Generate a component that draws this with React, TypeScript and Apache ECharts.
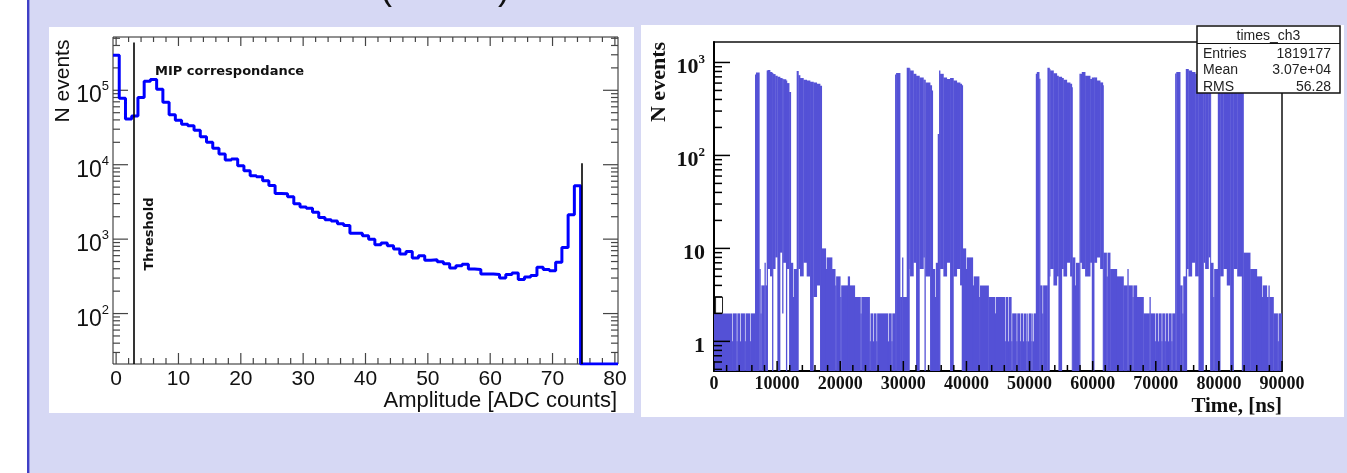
import React, { useEffect, useRef } from 'react';
import * as echarts from 'echarts';

// ---------------- Left chart: amplitude histogram (bins of 1 ADC count, 0..80) ----------------
const ampBinValues = [
  295000, 78000, 41000, 45000, 80000, 132000, 140000, 103000, 69000, 47000,
  39600, 35000, 33300, 29000, 23700, 20000, 16600, 13900, 11600, 11900,
  9700, 8300, 7100, 6900, 6100, 5250, 4100, 4060, 3700, 3000,
  2700, 2600, 2300, 1950, 1820, 1750, 1610, 1520, 1200, 1200,
  1110, 1000, 840, 890, 815, 736, 630, 684, 558, 600,
  519, 530, 498, 468, 410, 440, 458, 398, 390, 341,
  341, 334, 301, 334, 351, 286, 310, 324, 418, 390,
  377, 489, 774, 2120, 5200, 0, 0, 0, 0, 0, 0,
];
const ampTickLabels = [0, 10, 20, 30, 40, 50, 60, 70, 80];
const ampMinorTicks = [2, 4, 6, 8, 12, 14, 16, 18, 22, 24, 26, 28, 32, 34, 36, 38, 42, 44, 46, 48, 52, 54, 56, 58, 62, 64, 66, 68, 72, 74, 76, 78];
const ampDecades = [100, 1000, 10000, 100000];
const thresholdLines = [
  { x: 2.8, top: 440000 },
  { x: 74.7, top: 10500 },
];
const AMP_X_MIN = -0.5, AMP_X_MAX = 80.5, AMP_Y_MIN = 21, AMP_Y_MAX = 520000;

// ---------------- Right chart: time histogram, segments [tStart, tEnd, top, bottom] ----------------
const baselineSegs = [
  [0, 2800, 2, 0], [2800, 2950, 1, 0], [2950, 3550, 2, 0], [3550, 3700, 1, 0], [3700, 4100, 2, 0],
  [4100, 4250, 1, 0], [4250, 4850, 2, 0], [4850, 5000, 1, 0], [5000, 5650, 2, 0], [5650, 5800, 1, 0],
  [5800, 6500, 2, 0],
];
const outlinedSegs = [
  [250, 1350, 3, 2],
];
const group1Segs = [
  [6500, 6650, 740, 0], [6650, 7180, 780, 0], [7180, 7350, 6, 0], [7350, 7500, 2, 0], [7500, 8000, 4, 0],
  [8000, 8150, 7, 0], [8150, 8350, 4, 0], [8350, 8500, 820, 0], [8500, 8875, 830, 6], [8875, 9200, 790, 5],
  [9200, 9350, 770, 0], [9350, 9700, 750, 6], [9700, 10040, 720, 8], [10040, 10460, 700, 0], [10460, 10800, 680, 9],
  [10800, 10950, 670, 2], [10950, 11400, 660, 7], [11400, 11550, 640, 0], [11550, 11900, 600, 6], [11900, 12160, 480, 0],
  [12160, 12500, 7, 0], [12500, 12650, 3, 0], [12650, 13100, 6, 0], [13100, 13370, 810, 0], [13370, 13630, 730, 6],
  [13630, 14158, 680, 5], [14158, 14687, 650, 7], [14687, 15215, 640, 5], [15215, 15743, 620, 0], [15743, 16272, 610, 3],
  [16272, 16800, 590, 4], [16800, 17064, 560, 0],
];
const tail1Segs = [
  [17064, 17700, 10, 0], [17700, 17850, 6, 0], [17850, 18700, 8, 0], [18700, 19200, 6, 0], [19200, 19350, 4, 0],
  [19350, 20000, 5, 0], [20000, 20150, 3, 0], [20150, 21200, 4, 0], [21200, 21500, 5, 0], [21500, 22300, 4, 0],
  [22300, 23200, 3, 0], [23200, 23350, 2, 0], [23350, 24650, 3, 0], [24650, 24800, 1, 0], [24800, 25180, 2, 0],
  [25180, 25330, 1, 0], [25330, 25700, 2, 0], [25700, 25850, 1, 0], [25850, 27550, 2, 0], [27550, 27700, 1, 0],
  [27700, 28100, 2, 0], [28100, 28250, 1, 0], [28250, 28690, 2, 0],
];
const group2Segs = [
  [28690, 28850, 740, 0], [28850, 29480, 770, 0], [29480, 29800, 3, 0], [29800, 29950, 8, 0], [29950, 30535, 3, 0],
  [30535, 30960, 875, 0], [30960, 31064, 860, 6], [31064, 31592, 820, 5], [31592, 32014, 755, 7], [32014, 32543, 720, 0],
  [32543, 33177, 690, 6], [33177, 33350, 650, 8], [33350, 33500, 650, 0], [33500, 34234, 610, 5], [34234, 34498, 570, 0],
  [34498, 34656, 500, 0], [34656, 35000, 6, 0], [35000, 35150, 3, 0], [35150, 35449, 7, 0], [35449, 35660, 170, 0],
  [35660, 35818, 820, 0], [35818, 36347, 755, 6], [36347, 36875, 690, 5], [36875, 37403, 665, 7], [37403, 37931, 680, 0],
  [37931, 38460, 640, 5], [38460, 38988, 610, 6], [38988, 39252, 590, 4], [39252, 39411, 570, 0],
];
const tail2Segs = [
  [39411, 39900, 10, 0], [39900, 40050, 6, 0], [40050, 41000, 8, 0], [41000, 41150, 4, 0], [41150, 42000, 5, 0],
  [42000, 42150, 3, 0], [42150, 43500, 4, 0], [43500, 44500, 3, 0], [44500, 44650, 2, 0], [44650, 46050, 3, 0],
  [46050, 46200, 1, 0], [46200, 46580, 3, 0], [46580, 46730, 1, 0], [46730, 47100, 3, 0], [47100, 47250, 1, 0],
  [47250, 47900, 2, 0], [47900, 48050, 1, 0], [48050, 48430, 2, 0], [48430, 48580, 1, 0], [48580, 48950, 2, 0],
  [48950, 49100, 1, 0], [49100, 49480, 2, 0], [49480, 49630, 1, 0], [49630, 49750, 2, 0], [49750, 49900, 1, 0],
  [49900, 50280, 2, 0], [50280, 50430, 1, 0], [50430, 50540, 2, 0], [50540, 50690, 1, 0], [50690, 50990, 2, 0],
];
const group3Segs = [
  [50990, 51150, 755, 0], [51150, 51520, 790, 0], [51520, 51670, 670, 0], [51670, 52000, 4, 0], [52000, 52150, 2, 0],
  [52150, 52833, 4, 0], [52833, 53150, 875, 0], [53150, 53255, 850, 5], [53255, 53784, 820, 6], [53784, 54312, 765, 4],
  [54312, 54576, 720, 5], [54576, 55104, 700, 0], [55104, 55369, 680, 6], [55369, 55897, 650, 5], [55897, 56425, 610, 7],
  [56425, 56690, 590, 5], [56690, 56795, 540, 0], [56795, 57200, 8, 0], [57200, 57350, 4, 0], [57350, 57904, 7, 0],
  [57904, 58010, 755, 0], [58010, 58274, 755, 7], [58274, 58802, 790, 6], [58802, 59595, 720, 5], [59595, 59860, 665, 7],
  [59860, 60230, 690, 0], [60230, 60651, 690, 7], [60651, 61180, 640, 8], [61180, 61603, 610, 6], [61603, 61708, 570, 0],
];
const tail3Segs = [
  [61708, 62200, 9, 0], [62200, 62350, 5, 0], [62350, 62765, 9, 0], [62765, 63822, 6, 0], [63822, 64879, 5, 0],
  [64879, 65500, 4, 0], [65500, 65650, 6, 0], [65650, 66300, 4, 0], [66300, 66450, 3, 0], [66450, 66992, 4, 0],
  [66992, 68049, 3, 0], [68049, 69000, 2, 0], [69000, 69150, 3, 0], [69150, 69820, 2, 0], [69820, 69970, 1, 0],
  [69970, 70350, 2, 0], [70350, 70500, 1, 0], [70500, 70880, 2, 0], [70880, 71030, 1, 0], [71030, 71400, 2, 0],
  [71400, 71550, 1, 0], [71550, 71930, 2, 0], [71930, 72080, 1, 0], [72080, 72460, 2, 0], [72460, 72610, 1, 0],
  [72610, 73067, 2, 0],
];
const group4Segs = [
  [73067, 73250, 760, 0], [73250, 73859, 790, 0], [73859, 74200, 4, 0], [74200, 74350, 2, 0], [74350, 74757, 5, 0],
  [74757, 74915, 850, 0], [74915, 75180, 850, 6], [75180, 75708, 820, 5], [75708, 76236, 790, 7], [76236, 76764, 755, 5],
  [76764, 77557, 720, 0], [77557, 77821, 690, 7], [77821, 78349, 650, 6], [78349, 78613, 610, 8], [78613, 78719, 560, 0],
  [78719, 79100, 7, 0], [79100, 79250, 3, 0], [79250, 79829, 6, 0], [79829, 80199, 840, 0], [80199, 80700, 800, 5],
  [80700, 81250, 760, 6], [81250, 81784, 720, 4], [81784, 82313, 690, 0], [82313, 82900, 650, 6], [82900, 83634, 610, 5],
  [83634, 83897, 570, 0],
];
const tail4Segs = [
  [83897, 84950, 9, 0], [84950, 86006, 6, 0], [86006, 86800, 5, 0], [86800, 86950, 3, 0], [86950, 87591, 4, 0],
  [87591, 87850, 3, 0], [87850, 88000, 4, 0], [88000, 88648, 3, 0], [88648, 89300, 2, 0], [89300, 89450, 1, 0],
  [89450, 90000, 2, 0],
];
const timeDecades = [1, 10, 100, 1000];
const statsRows = [
  ['Entries', '1819177'],
  ['Mean', '3.07e+04'],
  ['RMS', '56.28'],
];
const T_MIN = 0, T_MAX = 90000, T_INTERVAL = 10000, T_MINOR = 2000, N_MIN = 0.48, N_MAX = 1660;

const LAVENDER = '#d6d8f4';
const HIST_FILL = '#5451d6';

function minorLogTicks(decades: number[], lo: number, hi: number) {
  const out: number[] = [];
  const all = [decades[0] / 10, ...decades];
  all.forEach((d) => {
    for (let m = 2; m <= 9; m++) {
      const v = m * d;
      if (v > lo && v < hi) out.push(v);
    }
  });
  return out;
}

function tickRenderer(color: string, width: number) {
  return (params: any, api: any) => {
    const p = api.coord([api.value(0), api.value(1)]);
    const kind = api.value(2);
    const len = api.value(3);
    let x2 = p[0], y2 = p[1];
    if (kind === 0) y2 -= len;
    else if (kind === 1) y2 += len;
    else if (kind === 2) x2 += len;
    else x2 -= len;
    return {
      type: 'line',
      shape: { x1: p[0], y1: p[1], x2, y2 },
      style: { stroke: color, lineWidth: width },
    };
  };
}

function segRenderer(fill: string, stroke: string | null) {
  return (params: any, api: any) => {
    const t0 = api.value(0), t1 = api.value(1), hi = api.value(2), lo = api.value(3);
    const a = api.coord([t0, hi]);
    const b = api.coord([t1, lo > 0 ? lo : N_MIN]);
    return {
      type: 'rect',
      shape: { x: a[0], y: a[1], width: b[0] - a[0] + (stroke ? 0 : 0.35), height: b[1] - a[1] },
      style: stroke ? { fill, stroke, lineWidth: 1 } : { fill },
    };
  };
}

export default function App() {
  const ref = useRef<HTMLDivElement>(null);
  useEffect(() => {
    if (!ref.current) return;
    const chart = echarts.init(ref.current, null, { renderer: 'svg' });

    // Left ticks
    const leftTicks: number[][] = [];
    ampTickLabels.forEach((v) => {
      leftTicks.push([v, AMP_Y_MIN, 0, 11]);
      leftTicks.push([v, AMP_Y_MAX, 1, 9]);
    });
    ampMinorTicks.forEach((v) => {
      leftTicks.push([v, AMP_Y_MIN, 0, 6]);
      leftTicks.push([v, AMP_Y_MAX, 1, 5]);
    });
    ampDecades.forEach((v) => {
      leftTicks.push([AMP_X_MIN, v, 2, 15]);
      leftTicks.push([AMP_X_MAX, v, 3, 15]);
    });
    minorLogTicks(ampDecades, AMP_Y_MIN, AMP_Y_MAX).forEach((v) => {
      leftTicks.push([AMP_X_MIN, v, 2, 7]);
      leftTicks.push([AMP_X_MAX, v, 3, 7]);
    });

    // Right ticks
    const rightTicks: number[][] = [];
    for (let t = T_MIN; t <= T_MAX; t += T_MINOR) {
      const major = t % T_INTERVAL === 0;
      rightTicks.push([t, N_MIN, 0, major ? 10 : 6]);
    }
    timeDecades.forEach((v) => rightTicks.push([T_MIN, v, 2, 16]));
    minorLogTicks(timeDecades, N_MIN, N_MAX).forEach((v) => rightTicks.push([T_MIN, v, 2, 8]));

    const stepData = ampBinValues.map((v, i) => [i - 0.5, v > 0 ? v : AMP_Y_MIN]);
    const lastV = ampBinValues[ampBinValues.length - 1];
    stepData.push([ampBinValues.length - 0.5, lastV > 0 ? lastV : AMP_Y_MIN]);

    const timeSegs = [
      ...baselineSegs, ...group1Segs, ...tail1Segs, ...group2Segs, ...tail2Segs,
      ...group3Segs, ...tail3Segs, ...group4Segs, ...tail4Segs,
    ];

    const leftRich = {
      b: { fontSize: 23, fontFamily: 'Liberation Sans', color: '#111', padding: [8, 0, 0, 0] },
      s: { fontSize: 13, fontFamily: 'Liberation Sans', color: '#111', padding: [0, 0, 9, 0] },
    };
    const rightRich = {
      b: { fontSize: 22, fontWeight: 'bold', fontFamily: 'Liberation Serif', color: '#111', padding: [6, 0, 0, 0] },
      s: { fontSize: 13, fontWeight: 'bold', fontFamily: 'Liberation Serif', color: '#111', padding: [0, 0, 7, 0] },
    };
    const powLabel = (v: number, plainBelow: number) => {
      const l = Math.log10(v);
      const e = Math.round(l);
      if (Math.abs(l - e) > 1e-6) return '';
      if (Math.pow(10, e) < plainBelow) return `{b|${Math.round(Math.pow(10, e))}}`;
      return `{b|10}{s|${e}}`;
    };

    const graphic: any[] = [
      { type: 'rect', z: -10, silent: true, shape: { x: 0, y: 0, width: 1347, height: 473 }, style: { fill: LAVENDER } },
      { type: 'rect', z: -9, silent: true, shape: { x: 0, y: 0, width: 27, height: 473 }, style: { fill: '#ffffff' } },
      { type: 'rect', z: -9, silent: true, shape: { x: 27, y: 0, width: 2.4, height: 473 }, style: { fill: '#3f3fc6' } },
      { type: 'rect', z: -9, silent: true, shape: { x: 49, y: 27, width: 585, height: 386 }, style: { fill: '#ffffff' } },
      { type: 'rect', z: -9, silent: true, shape: { x: 641, y: 25, width: 703, height: 392 }, style: { fill: '#ffffff' } },
      { type: 'text', z: 10, x: 386, y: 4, style: { text: '(', fontSize: 36, fontFamily: 'Liberation Sans', fill: '#111', align: 'center', verticalAlign: 'bottom' } },
      { type: 'text', z: 10, x: 504, y: 4, style: { text: ')', fontSize: 36, fontFamily: 'Liberation Sans', fill: '#111', align: 'center', verticalAlign: 'bottom' } },
      // left chart texts
      { type: 'text', z: 10, x: 61, y: 81, rotation: Math.PI / 2, style: { text: 'N events', fontSize: 21, fontFamily: 'Liberation Sans', fill: '#111', align: 'center', verticalAlign: 'middle' } },
      { type: 'text', z: 10, x: 617, y: 399, style: { text: 'Amplitude [ADC counts]', fontSize: 22, fontFamily: 'Liberation Sans', fill: '#111', align: 'right', verticalAlign: 'middle' } },
      { type: 'text', z: 10, x: 155, y: 70, style: { text: 'MIP correspondance', fontSize: 13, fontWeight: 'bold', fontFamily: 'DejaVu Sans', fill: '#111', align: 'left', verticalAlign: 'middle' } },
      { type: 'text', z: 10, x: 148, y: 234, rotation: Math.PI / 2, style: { text: 'Threshold', fontSize: 13, fontWeight: 'bold', fontFamily: 'DejaVu Sans', fill: '#111', align: 'center', verticalAlign: 'middle' } },
      // right chart texts
      { type: 'text', z: 10, x: 657, y: 82, rotation: Math.PI / 2, style: { text: 'N events', fontSize: 22, fontWeight: 'bold', fontFamily: 'Liberation Serif', fill: '#111', align: 'center', verticalAlign: 'middle' } },
      { type: 'text', z: 10, x: 1282, y: 405, style: { text: 'Time, [ns]', fontSize: 21, fontWeight: 'bold', fontFamily: 'Liberation Serif', fill: '#111', align: 'right', verticalAlign: 'middle' } },
      // stats box
      { type: 'rect', z: 20, shape: { x: 1197, y: 26, width: 143, height: 67 }, style: { fill: '#ffffff', stroke: '#111', lineWidth: 1.5 } },
      { type: 'line', z: 21, shape: { x1: 1197, y1: 43.5, x2: 1340, y2: 43.5 }, style: { stroke: '#111', lineWidth: 1.2 } },
      { type: 'text', z: 21, x: 1268.5, y: 35, style: { text: 'times_ch3', fontSize: 14, fontFamily: 'Liberation Sans', fill: '#222', align: 'center', verticalAlign: 'middle' } },
    ];
    statsRows.forEach((row, i) => {
      const y = 52.5 + i * 16.5;
      graphic.push({ type: 'text', z: 21, x: 1203, y, style: { text: row[0], fontSize: 14, fontFamily: 'Liberation Sans', fill: '#222', align: 'left', verticalAlign: 'middle' } });
      graphic.push({ type: 'text', z: 21, x: 1331, y, style: { text: row[1], fontSize: 14, fontFamily: 'Liberation Sans', fill: '#222', align: 'right', verticalAlign: 'middle' } });
    });

    const option: any = {
      animation: false,
      backgroundColor: 'transparent',
      graphic,
      grid: [
        { left: 113, top: 37, width: 505, height: 327, show: true, borderColor: '#222', borderWidth: 1, backgroundColor: 'transparent' },
        { left: 714, top: 42, width: 568, height: 329, show: true, borderColor: '#111', borderWidth: 1.5, backgroundColor: 'transparent' },
      ],
      xAxis: [
        {
          gridIndex: 0, type: 'value', min: AMP_X_MIN, max: AMP_X_MAX,
          axisLine: { show: false }, axisTick: { show: false }, splitLine: { show: false },
          axisLabel: { customValues: ampTickLabels, fontSize: 21, fontFamily: 'Liberation Sans', color: '#111', margin: 3 },
        },
        {
          gridIndex: 1, type: 'value', min: T_MIN, max: T_MAX, interval: T_INTERVAL,
          axisLine: { show: true, lineStyle: { color: '#000', width: 2 } }, axisTick: { show: false }, splitLine: { show: false },
          axisLabel: { formatter: (v: number) => String(v), fontSize: 18, fontWeight: 'bold', fontFamily: 'Liberation Serif', color: '#111', margin: 3 },
        },
      ],
      yAxis: [
        {
          gridIndex: 0, type: 'log', logBase: 10, min: AMP_Y_MIN, max: AMP_Y_MAX,
          axisLine: { show: false }, axisTick: { show: false }, splitLine: { show: false },
          axisLabel: { formatter: (v: number) => powLabel(v, 0), rich: leftRich, margin: 4 },
        },
        {
          gridIndex: 1, type: 'log', logBase: 10, min: N_MIN, max: N_MAX,
          axisLine: { show: true, lineStyle: { color: '#000', width: 2 } }, axisTick: { show: false }, splitLine: { show: false },
          axisLabel: { formatter: (v: number) => powLabel(v, 11), rich: rightRich, margin: 9 },
        },
      ],
      series: [
        {
          type: 'line', xAxisIndex: 0, yAxisIndex: 0, step: 'end', data: stepData, symbol: 'none', silent: true,
          lineStyle: { color: '#0000ff', width: 3 }, clip: true,
          markLine: {
            silent: true, symbol: 'none', label: { show: false },
            lineStyle: { color: '#000', width: 1.6, type: 'solid' },
            data: thresholdLines.map((t) => [{ coord: [t.x, AMP_Y_MIN] }, { coord: [t.x, t.top] }]),
          },
        },
        {
          type: 'custom', xAxisIndex: 0, yAxisIndex: 0, silent: true,
          data: leftTicks, renderItem: tickRenderer('#444', 1.2),
        },
        {
          type: 'custom', xAxisIndex: 1, yAxisIndex: 1, silent: true, clip: true,
          data: timeSegs, encode: { x: [0, 1], y: [2, 3] },
          renderItem: segRenderer(HIST_FILL, null),
        },
        {
          type: 'custom', xAxisIndex: 1, yAxisIndex: 1, silent: true, clip: true,
          data: outlinedSegs, encode: { x: [0, 1], y: [2, 3] },
          renderItem: segRenderer('#ffffff', '#222'),
        },
        {
          type: 'custom', xAxisIndex: 1, yAxisIndex: 1, silent: true,
          data: rightTicks, renderItem: tickRenderer('#000', 1.5),
        },
      ],
    };
    chart.setOption(option);
    return () => chart.dispose();
  }, []);
  return <div ref={ref} style={{ position: 'fixed', left: 0, top: 0, width: 1347, height: 473 }} />;
}
